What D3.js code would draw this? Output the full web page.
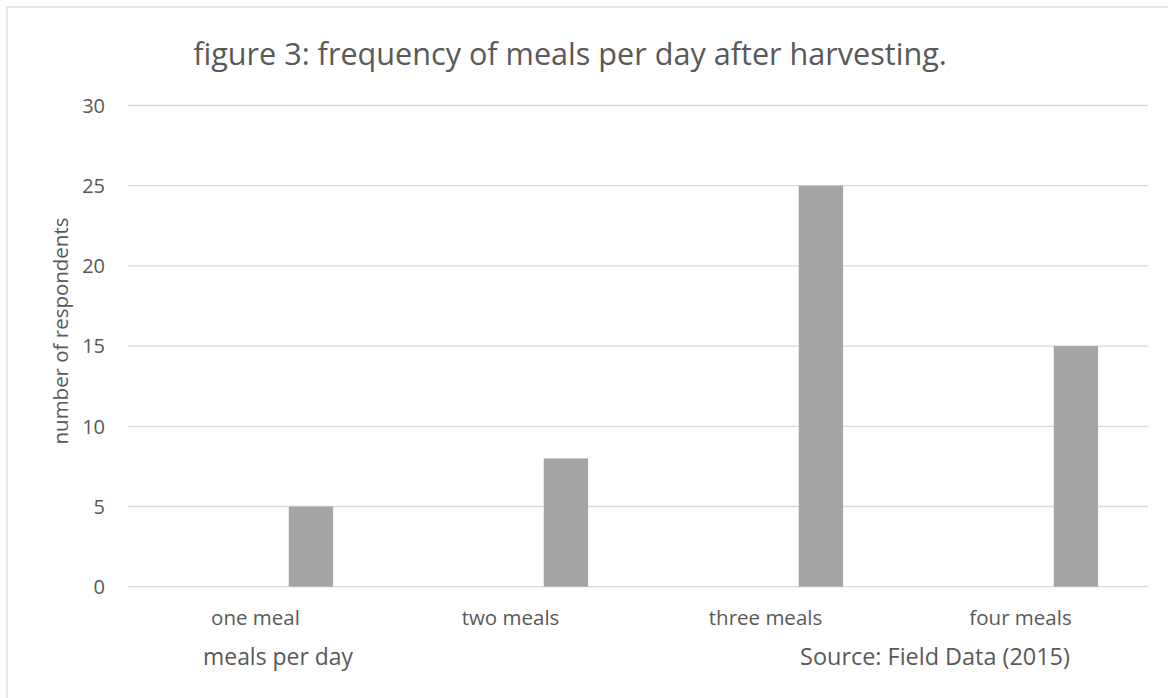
<!DOCTYPE html>
<html>
<head>
<meta charset="utf-8">
<script src="https://cdn.jsdelivr.net/npm/d3@7"></script>
<style>
  body { margin: 0; background: #fff; }
  text { font-family: "Open Sans", "Noto Sans", sans-serif; fill: #595959; }
</style>
</head>
<body>
<script>
// data
var categories = ["one meal", "two meals", "three meals", "four meals"];
var respondents = [5, 8, 25, 15];
var series = ["blank", "respondents"];   // first series is empty in the original
var yTicks = [0, 5, 10, 15, 20, 25, 30];

var width = 1168, height = 698;
var plot = { left: 128, right: 1148, top: 105.5, bottom: 586.7 };

var svg = d3.select("body").append("svg")
    .attr("width", width)
    .attr("height", height);

// chart frame (only left & top edges show in the picture)
svg.append("rect")
    .attr("x", 7).attr("y", 7)
    .attr("width", 1300).attr("height", 800)
    .attr("fill", "none")
    .attr("stroke", "#d9d9d9")
    .attr("stroke-width", 1.3);

var x = d3.scaleBand()
    .domain(categories)
    .range([plot.left, plot.right])
    .padding(0);

var x1 = d3.scaleBand()
    .domain(series)
    .range([0, x.bandwidth()])
    .paddingInner(0.6)
    .paddingOuter(0.45);

var y = d3.scaleLinear()
    .domain([0, 30])
    .range([plot.bottom, plot.top]);

// gridlines
svg.append("g").selectAll("line")
    .data(yTicks)
    .enter().append("line")
    .attr("x1", plot.left)
    .attr("x2", plot.right)
    .attr("y1", function(d) { return y(d); })
    .attr("y2", function(d) { return y(d); })
    .attr("stroke", "#d9d9d9")
    .attr("stroke-width", 1.3);

// y tick labels
svg.append("g").selectAll("text")
    .data(yTicks)
    .enter().append("text")
    .attr("x", 105)
    .attr("y", function(d) { return y(d); })
    .attr("dy", "0.36em")
    .attr("text-anchor", "end")
    .style("font-size", "20px")
    .text(function(d) { return d; });

// bars
svg.append("g").selectAll("rect")
    .data(respondents)
    .enter().append("rect")
    .attr("x", function(d, i) { return x(categories[i]) + x1("respondents"); })
    .attr("width", x1.bandwidth())
    .attr("y", function(d) { return y(d); })
    .attr("height", function(d) { return y(0) - y(d); })
    .attr("fill", "#a5a5a5");

// category labels
svg.append("g").selectAll("text")
    .data(categories)
    .enter().append("text")
    .attr("x", function(d) { return x(d) + x.bandwidth() / 2; })
    .attr("y", 625)
    .attr("text-anchor", "middle")
    .style("font-size", "20.5px")
    .text(function(d) { return d; });

// scale a text element's font so it spans the wanted width
function fitWidth(sel, target) {
    var fs = parseFloat(sel.style("font-size"));
    var w = sel.node().getComputedTextLength();
    if (w > 0) sel.style("font-size", (fs * target / w) + "px");
}

var title = svg.append("text")
    .attr("x", 570)
    .attr("y", 65)
    .attr("text-anchor", "middle")
    .style("font-size", "28px")
    .text("figure 3: frequency of meals per day after harvesting.");
fitWidth(title, 754);

var xTitle = svg.append("text")
    .attr("x", 278)
    .attr("y", 665)
    .attr("text-anchor", "middle")
    .style("font-size", "22px")
    .text("meals per day");
fitWidth(xTitle, 150);

var source = svg.append("text")
    .attr("x", 935)
    .attr("y", 665)
    .attr("text-anchor", "middle")
    .style("font-size", "22px")
    .text("Source: Field Data (2015)");
fitWidth(source, 270);

var yTitle = svg.append("text")
    .attr("transform", "translate(68,331) rotate(-90)")
    .attr("text-anchor", "middle")
    .style("font-size", "21px")
    .text("number of respondents");
fitWidth(yTitle, 227);
</script>
</body>
</html>
